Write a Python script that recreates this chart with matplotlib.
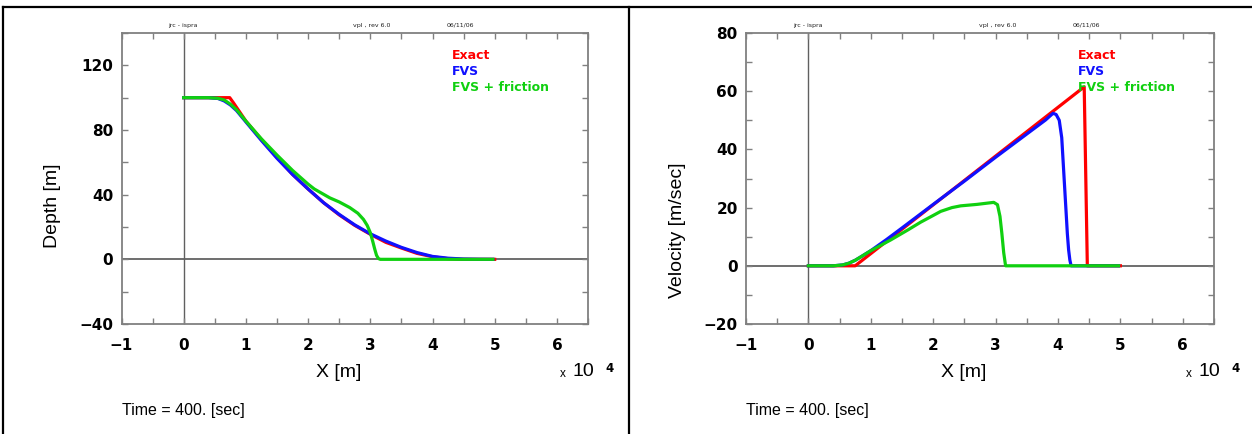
import numpy as np
import matplotlib
matplotlib.use("Agg")
import matplotlib.pyplot as plt
from matplotlib.lines import Line2D
from matplotlib.ticker import MultipleLocator

# ---- data (x in units of 10^4 m) ----
x_depth_exact = [0, 0.74, 0.8, 1.0, 1.25, 1.5, 1.75, 2.0, 2.25, 2.5, 2.75, 3.0,
                 3.25, 3.5, 3.75, 4.0, 4.25, 4.47, 5.0]
depth_exact = [100, 100, 96.8, 85.5, 74, 63, 52.5, 43.5, 35, 27.5, 21, 15.5,
               10.5, 7, 3.7, 1.6, 0.4, 0, 0]

x_depth_fvs = [0, 0.4, 0.55, 0.65, 0.75, 0.85, 1.0, 1.25, 1.5, 1.75, 2.0, 2.25,
               2.5, 2.75, 3.0, 3.25, 3.5, 3.75, 4.0, 4.25, 4.5, 4.75, 4.97]
depth_fvs = [100, 100, 99.5, 98, 95.5, 92, 85, 73.5, 62.5, 52.5, 43.5, 35,
             27.8, 21.3, 15.8, 11.3, 7.4, 4.2, 1.8, 0.7, 0.2, 0.05, 0]

x_depth_fric = [0, 0.4, 0.55, 0.65, 0.75, 0.85, 1.0, 1.25, 1.5, 1.75, 2.0, 2.1,
                2.35, 2.5, 2.67, 2.8, 2.89, 2.95, 3.0, 3.04, 3.07, 3.1, 3.13,
                3.16, 4.97]
depth_fric = [100, 100, 99.6, 98.6, 96, 92.5, 85.5, 74.5, 64.5, 55, 46.5, 43.5,
              38, 35.5, 32, 28.5, 24.7, 21, 16.5, 11, 6.5, 2.5, 0.5, 0, 0]

x_vel_exact = [0, 0.75, 4.42, 4.47, 5.0]
vel_exact = [0, 0, 61.5, 0, 0]

x_vel_fvs = [0, 0.4, 0.55, 0.65, 0.75, 0.85, 1.0, 1.25, 1.5, 2.0, 2.5, 3.0,
             3.5, 3.8, 3.92, 3.97, 4.02, 4.06, 4.09, 4.12, 4.15, 4.17, 4.19,
             4.21, 4.97]
vel_fvs = [0, 0, 0.3, 0.9, 1.9, 3.2, 5.2, 9.0, 13.0, 21.1, 29.1, 37.3,
           45.3, 50.1, 52.4, 52.0, 50.0, 44.0, 33.0, 22.0, 11.0, 5.5, 2.0,
           0, 0]

x_vel_fric = [0, 0.4, 0.55, 0.65, 0.75, 0.85, 1.0, 1.32, 1.6, 1.8, 2.0, 2.12,
              2.3, 2.44, 2.7, 2.97, 3.03, 3.07, 3.1, 3.13, 3.16, 4.97]
vel_fric = [0, 0, 0.3, 0.9, 1.9, 3.2, 5.2, 8.9, 12.4, 15, 17.3, 18.7,
            20, 20.6, 21.1, 21.8, 21, 17, 11.2, 4.5, 0, 0]

series_names = ["Exact", "FVS", "FVS + friction"]
series_colors = ["#ff0000", "#1010ff", "#10d010"]

W, H = 1252, 434
fig = plt.figure(figsize=(W / 100, H / 100), dpi=100)
fig.patch.set_facecolor("white")

# frame around the two panels
frame_kw = dict(color="black", lw=1.6, transform=fig.transFigure)
fig.add_artist(Line2D([3 / W, 1], [1 - 7 / H, 1 - 7 / H], **frame_kw))
fig.add_artist(Line2D([3 / W, 3 / W], [0, 1 - 7 / H], **frame_kw))
fig.add_artist(Line2D([629 / W, 629 / W], [0, 1 - 7 / H], **frame_kw))

spine_col = "#808080"
label_font = "Liberation Sans"


def make_panel(left_px, width_px, ylim, ymajor, yminor, ylabel, data):
    ax = fig.add_axes([left_px / W, (H - 324) / H, width_px / W, 291 / H])
    ax.set_xlim(-1, 6.5)
    ax.set_ylim(*ylim)
    ax.xaxis.set_major_locator(MultipleLocator(1))
    ax.xaxis.set_minor_locator(MultipleLocator(0.5))
    ax.yaxis.set_major_locator(MultipleLocator(ymajor))
    ax.yaxis.set_minor_locator(MultipleLocator(yminor))
    for s in ax.spines.values():
        s.set_color(spine_col)
        s.set_linewidth(1.3)
    ax.tick_params(which="both", direction="in", top=True, right=True,
                   length=4, width=1, color=spine_col)
    ax.tick_params(axis="x", which="major", pad=10)
    ax.tick_params(axis="y", which="major", pad=6)
    for lab in ax.get_xticklabels() + ax.get_yticklabels():
        lab.set_fontsize(11)
        lab.set_fontweight("bold")
    ax.axhline(0, color="#555555", lw=1.2, zorder=1)
    ax.axvline(0, color="#606060", lw=1.0, zorder=1)

    for (xs, ys), c in zip(data, series_colors):
        ax.plot(xs, ys, color=c, lw=2.3, solid_joinstyle="round", zorder=3)

    for i, (name, c) in enumerate(zip(series_names, series_colors)):
        ax.text(0.709, 0.9107 - 0.055 * i, name, transform=ax.transAxes,
                color=c, fontsize=9, fontweight="bold", ha="left",
                va="baseline", zorder=4)

    # small header texts above the plot box
    for xf, s in [(0.132, "jrc - ispra"), (0.537, "vpl , rev 6.0"),
                  (0.727, "06/11/06")]:
        ax.text(xf, 1.018, s, transform=ax.transAxes, fontsize=4.5,
                ha="center", va="bottom", color="#202020")

    ax.text(0.466, -0.165, "X [m]", transform=ax.transAxes, fontsize=14,
            family=label_font, ha="center", va="center")
    ax.text(-0.147, (324 - 163) / 291, ylabel, transform=ax.transAxes,
            fontsize=14, family=label_font, rotation=90, ha="center",
            va="top")

    # exponent marker for the x axis
    ax.text(1 - 28 / width_px, -50 / 291, "x", transform=ax.transAxes,
            fontsize=8.5, family=label_font, ha="left", va="center")
    ax.text(1 - 15 / width_px, -47 / 291, "10", transform=ax.transAxes,
            fontsize=14, family=label_font, ha="left", va="center")
    ax.text(1 + 17 / width_px, -45 / 291, "4", transform=ax.transAxes,
            fontsize=8.5, fontweight="bold", ha="left", va="center")

    ax.text(0.0, -87 / 291, "Time = 400. [sec]", transform=ax.transAxes,
            fontsize=11.5, family=label_font, ha="left", va="center")
    return ax


make_panel(121.5, 466.5, (-40, 140), 40, 20, "Depth [m]",
           [(x_depth_exact, depth_exact), (x_depth_fvs, depth_fvs),
            (x_depth_fric, depth_fric)])
make_panel(746, 468, (-20, 80), 20, 10, "Velocity [m/sec]",
           [(x_vel_exact, vel_exact), (x_vel_fvs, vel_fvs),
            (x_vel_fric, vel_fric)])

fig.savefig("out.png", dpi=100, facecolor="white")
